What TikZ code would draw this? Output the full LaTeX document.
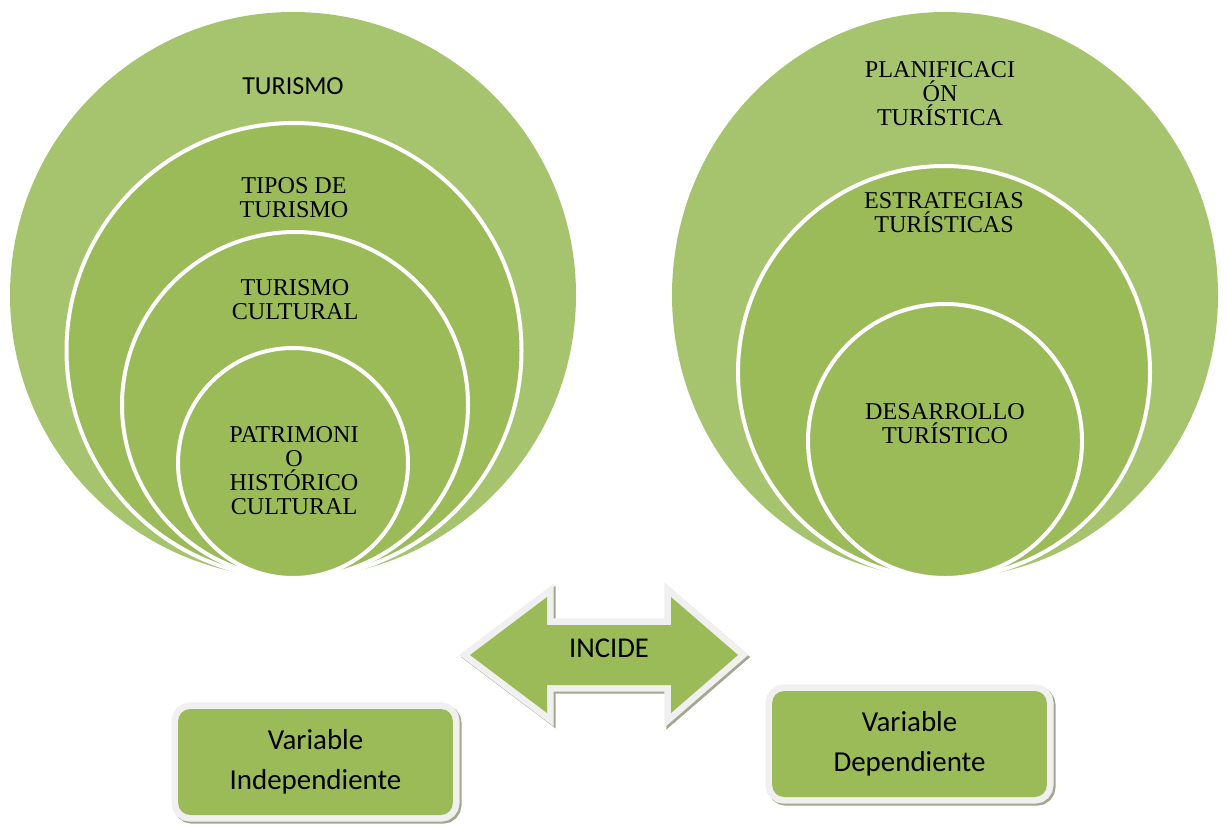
\documentclass[tikz,border=0pt]{standalone}
\usepackage{fontspec}
\setmainfont{Liberation Serif}
\newfontfamily\calibri{Carlito}
\usetikzlibrary{shapes.geometric}

\definecolor{leafout}{HTML}{A6C36E}
\definecolor{leaf}{HTML}{9BBB59}
\definecolor{rim}{HTML}{F0F0F0}
\definecolor{shade}{HTML}{A3A78F}

\tikzset{
    ring/.style={circle, fill=leaf, draw=white, line width=3pt, inner sep=0pt},
    ringtext/.style={font=\fontsize{18.1}{18}\selectfont, align=center, inner sep=0pt},
    framed/.style={fill=leaf,
        preaction={draw=shade, line width=10pt, transform canvas={shift={(1.5pt,-1.5pt)}}},
        preaction={draw=rim, line width=10pt}},
    varbox/.style={framed, rounded corners=9pt, minimum width=206pt, minimum height=79.5pt,
        align=center, font=\calibri\fontsize{21.7}{30}\selectfont}
}

\begin{document}
\begin{tikzpicture}[x=0.75pt, y=-0.75pt]
    \useasboundingbox (0,0) rectangle (1226,825);

    % Draw the nested circles on the left
    \node[ring, fill=leafout, draw=none, minimum size=424.5pt] (turismo) at (293,295) {};
    \foreach \name/\cx/\cy/\d in {tipos/294/350.5/341.25, cultural/295/405/259.5, patrimonio/293/463/172.5} {
        \node[ring, minimum size=\d pt] (\name) at (\cx,\cy) {};
    }

    % Draw the nested circles on the right
    \node[ring, ellipse, fill=leafout, draw=none, minimum width=409.5pt, minimum height=424.5pt] (planif) at (945,295) {};
    \foreach \name/\cx/\cy/\d in {estrategias/944/372/309, desarrollo/945/441/205.5} {
        \node[ring, minimum size=\d pt] (\name) at (\cx,\cy) {};
    }

    % Labels inside the circles
    \node[font=\calibri\fontsize{19.5}{24}\selectfont] (tturismo) at (293,86) {TURISMO};
    \node[ringtext] (ttipos) at (294,198) {TIPOS DE\\TURISMO};
    \node[ringtext] (tcultural) at (295,300) {TURISMO\\CULTURAL};
    \node[ringtext] (tpatrimonio) at (294,471) {PATRIMONI\\O\\HISTÓRICO\\CULTURAL};
    \node[ringtext] (tplanif) at (940,94) {PLANIFICACI\\ÓN\\TURÍSTICA};
    \node[ringtext] (testrategias) at (944,213) {ESTRATEGIAS\\TURÍSTICAS};
    \node[ringtext] (tdesarrollo) at (945,424) {DESARROLLO\\TURÍSTICO};

    % Draw the double arrow between the two variables
    \path[framed, line join=miter, miter limit=1.6] (470,655) -- (547,597) -- (547,625) -- (671,625) -- (671,597)
        -- (738,655) -- (671,713) -- (671,685) -- (547,685) -- (547,713) -- cycle;
    \node[font=\calibri\fontsize{21.5}{26}\selectfont] (incide) at (609,648) {INCIDE};

    % Variable boxes
    \node[varbox] (indep) at (315.5,762) {Variable\\Independiente};
    \node[varbox] (dep) at (909.5,744) {Variable\\Dependiente};
\end{tikzpicture}
\end{document}
